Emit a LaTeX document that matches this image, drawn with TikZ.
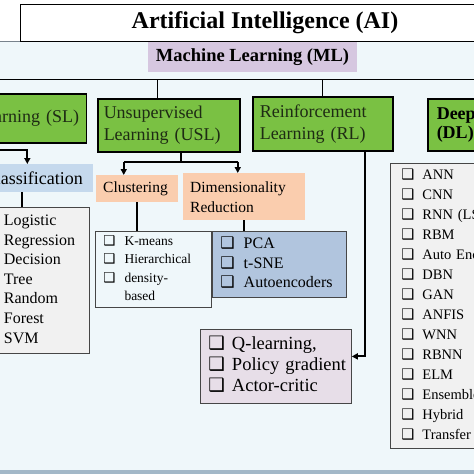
\documentclass[tikz,border=0pt]{standalone}
\usepackage{fontspec}
\setmainfont{Liberation Serif}
\newfontfamily\dejavu{DejaVu Sans}
\usepackage{xcolor}
\usepackage{tikz}
\usetikzlibrary{calc,arrows.meta,positioning}
\definecolor{panelBg}{RGB}{239,247,250}
\definecolor{panelEdge}{RGB}{120,130,140}
\definecolor{bandBlue}{RGB}{163,184,200}
\definecolor{mlGreen}{RGB}{122,193,67}
\definecolor{mlText}{RGB}{30,43,20}
\definecolor{mlPurple}{RGB}{214,199,224}
\definecolor{clsBlue}{RGB}{197,217,237}
\definecolor{redPeach}{RGB}{250,205,174}
\definecolor{slGray}{RGB}{241,241,241}
\definecolor{dimBlue}{RGB}{177,197,222}
\definecolor{rlPink}{RGB}{231,222,232}
\definecolor{listEdge}{RGB}{70,70,70}
\newcommand{\chk}{{\dejavu ❑}}

\begin{document}
\begin{tikzpicture}[x=1pt,y=-1pt,
  catbox/.style={draw=black, line width=1.5pt, fill=mlGreen, text=mlText, anchor=north west,
    align=left, inner ysep=0pt, font=\fontsize{18}{22}\selectfont},
  subbox/.style={anchor=north west, align=left, inner ysep=0pt, font=\fontsize{15.5}{20}\selectfont},
  listbox/.style={draw=listEdge, line width=0.8pt, anchor=north west, align=left, inner xsep=8pt, inner ysep=0pt},
  bus/.style={line width=1pt},
  link/.style={line width=2pt},
  flow/.style={line width=2pt, -{Triangle[length=6pt,width=6pt]}}]
\useasboundingbox (0,0) rectangle (474,474);
\clip (0,0) rectangle (474,474);

% panel
\fill[panelBg] (0,41) rectangle (474,471);
\draw[panelEdge, line width=0.8pt] (0,41) -- (474,41);
\fill[bandBlue] (0,470) rectangle (474,474);

\node[draw, line width=1pt, fill=white, minimum width=490, minimum height=37,
  font=\bfseries\fontsize{24}{28}\selectfont] (ai) at (265,23) {Artificial Intelligence (AI)};
\node[fill=mlPurple, minimum width=209, minimum height=30, inner sep=0pt,
  font=\bfseries\fontsize{18.5}{22}\selectfont] (ml) at (252.5,57) {Machine Learning (ML)};

% learning types
\node[catbox, anchor=north east, align=center, text width=190, inner xsep=7pt, minimum height=49] (sl) at (87,93) {Supervised Learning (SL)};
\node[catbox, text width=130, inner xsep=6pt, minimum height=53] (usl) at (97,98) {Unsupervised\\Learning (USL)};
\node[catbox, text width=126, inner xsep=7pt, minimum height=54] (rl) at (252,96) {Reinforcement\\Learning (RL)};
\node[catbox, text=black, text width=140, inner xsep=9pt, minimum height=52,
  font=\bfseries\fontsize{18}{19.5}\selectfont] (dl) at (427,98) {Deep Learning\\(DL)};

\coordinate (busL) at (0,79);
\coordinate (busR) at (474,79);
\coordinate (uslTop) at ($(usl.north)+(-11,0)$);
\draw[bus] (busL) -- (busR);
\draw[bus] (uslTop) -- (uslTop |- busL);
\draw[bus] (rl.north) -- (rl.north |- busL);

% sub tasks
\node[subbox, anchor=north east, fill=clsBlue, align=center, text width=119, inner xsep=0pt, minimum height=28,
  font=\fontsize{18}{22}\selectfont] (cls) at (93,164) {Classification};
\node[subbox, fill=redPeach, text width=68, inner xsep=7pt, minimum height=27] (clu) at (96,175) {Clustering};
\node[subbox, fill=redPeach, text width=108, inner xsep=7pt, minimum height=47] (dim) at (183,173) {Dimensionality\\Reduction};

% method lists
\node[listbox, anchor=north east, fill=slGray, text width=100, minimum height=146,
  font=\fontsize{16}{19.6}\selectfont] (slList) at (90,207) {%
  \begin{tabular}{@{}l@{\hspace{8pt}}l@{}}
  \chk & Logistic\\ & Regression\\ \chk & Decision\\ & Tree\\ \chk & Random\\ & Forest\\ \chk & SVM
  \end{tabular}};
\node[listbox, fill=panelBg, text width=100, minimum height=76,
  font=\fontsize{13.5}{18.3}\selectfont] (cluList) at (95,231) {%
  \begin{tabular}{@{}l@{\hspace{9pt}}l@{}}
  \chk & K-means\\ \chk & Hierarchical\\ \chk & density-\\ & based
  \end{tabular}};
\node[listbox, fill=dimBlue, text width=118, minimum height=66,
  font=\fontsize{16}{19.5}\selectfont] (dimList) at (212,231) {%
  \begin{tabular}{@{}l@{\hspace{9pt}}l@{}}
  \chk & PCA\\ \chk & t-SNE\\ \chk & Autoencoders
  \end{tabular}};
\node[listbox, fill=rlPink, text width=135, minimum height=74,
  font=\fontsize{18.5}{21}\selectfont] (rlList) at (200,329) {%
  \begin{tabular}{@{}l@{\hspace{7pt}}l@{}}
  \chk & Q-learning,\\ \chk & Policy gradient\\ \chk & Actor-critic
  \end{tabular}};
\node[listbox, fill=slGray, inner xsep=11pt, text width=88, minimum height=285,
  font=\fontsize{14.5}{20}\selectfont] (dlList) at (390,163) {%
  \begin{tabular}{@{}l@{\hspace{8pt}}l@{}}
  \chk & ANN\\ \chk & CNN\\ \chk & RNN (LSTM)\\ \chk & RBM\\ \chk & Auto Encoder\\
  \chk & DBN\\ \chk & GAN\\ \chk & ANFIS\\ \chk & WNN\\ \chk & RBNN\\ \chk & ELM\\
  \chk & Ensemble\\ \chk & Hybrid\\ \chk & Transfer
  \end{tabular}};

% connectors
\draw[flow] (sl.south) -- ++(0,6) -| ($(cls.north)+(-6,0)$);
\coordinate (clsOut) at ($(cls.south)+(-11,0)$);
\draw[link] (clsOut) -- (clsOut |- slList.north);
\coordinate (uslOut) at ($(usl.south)+(12,0)$);
\coordinate (forkL) at ($(uslOut)+(-57,9)$);
\coordinate (forkR) at ($(uslOut)+(57,9)$);
\draw[link] (uslOut) -- ($(uslOut)+(0,9)$);
\draw[link] (forkL) -- (forkR);
\draw[flow] (forkL) -- (forkL |- clu.north);
\draw[flow] (forkR) -- (forkR |- dim.north);
\draw[link] (clu.south) -- (clu.south |- cluList.north);
\draw[link] (dim.south) -- (dim.south |- dimList.north);
\coordinate (rlOut) at ($(rl.south)+(42,0)$);
\draw[flow] (rlOut) |- ($(rlList.east)+(0,-10)$);
\end{tikzpicture}
\end{document}
